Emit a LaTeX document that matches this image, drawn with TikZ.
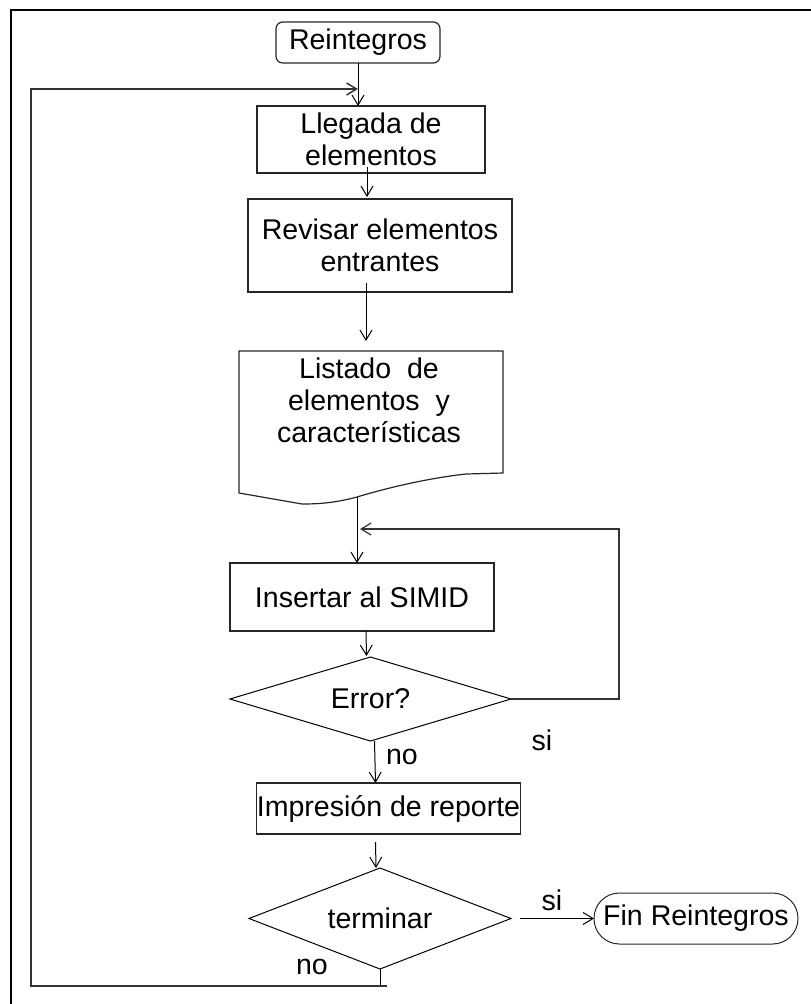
\documentclass[tikz,border=0pt]{standalone}
\usepackage{fontspec}
\setmainfont{Liberation Sans}
\usetikzlibrary{arrows.meta,shapes.geometric,calc}
\newcommand\flowfont{\fontsize{21.4pt}{24pt}\selectfont}
\begin{document}
\begin{tikzpicture}[x=0.75pt,y=-0.75pt,
  box/.style={draw=black!85, line width=0.9pt, inner sep=0pt, outer sep=0pt, align=center, font=\flowfont},
  decision/.style={draw=black, line width=0.75pt, shape=diamond, inner sep=0pt, outer sep=0pt, font=\flowfont},
  lbl/.style={inner sep=0pt, font=\flowfont},
  arr/.style={draw=black, line width=0.75pt, -{Straight Barb[length=7.5pt,width=9pt]}},
  plain/.style={draw=black, line width=0.75pt},
  loopline/.style={draw=black!80, line width=1.1pt}
]
\useasboundingbox (0,0) rectangle (811,1004);
% outer frame
\draw[line width=1.6pt] (11,1004) -- (11,10) -- (811,10);

% nodes
\node[box, rounded corners=5pt, minimum width=123pt, minimum height=30.75pt] (rein) at (358,42.5) {Reintegros};
\node[box, minimum width=171pt, minimum height=50.25pt] (lleg) at (371,139.5) {Llegada de\\elementos};
\node[box, minimum width=198pt, minimum height=69.75pt] (rev) at (380,245.5) {Revisar elementos\\entrantes};
% document shape
\draw[box] (239,351) -- (503,351) -- (503,473) -- (466,474)
  .. controls (430,478) and (390,487) .. (357,497)
  .. controls (335,503) and (318,504) .. (302,504) -- (239,493) -- cycle;
\node[lbl, align=center] (lst) at (369,400) {Listado\ \ de\\elementos\ \ y\\características};
\coordinate (lsttop) at (366,341);
\coordinate (lstbot) at (357,497);
\node[box, minimum width=198pt, minimum height=51pt] (ins) at (362,597) {Insertar al SIMID};
\node[decision, aspect=3.35, minimum width=210.75pt, minimum height=63pt] (err) at (370.5,699) {Error?};
\node[box, minimum width=197.25pt, minimum height=38.25pt] (imp) at (388.5,808.5) {Impresión de reporte};
\node[decision, aspect=2.6, minimum width=196.5pt, minimum height=75.75pt] (ter) at (380,918.5) {terminar};
\node[box, line width=0.75pt, rounded corners=19pt, minimum width=153pt, minimum height=38.25pt] (fin) at (696,918.5) {Fin Reintegros};

% labels
\node[lbl] (no1) at (402,757) {no};
\node[lbl] (si1) at (542,740) {si};
\node[lbl] (si2) at (552,900) {si};
\node[lbl] (no2) at (312,967) {no};

% connectors
\coordinate (lb) at (31,986);
\coordinate (lt) at (31,89);
\coordinate (erc) at (619,529);
\draw[arr] (rein.south) -- (rein.south |- lleg.north);
\draw[plain] (ter.south) -- (ter.south |- lb);
\draw[loopline, -{Straight Barb[length=7.5pt,width=9pt]}] ($(ter.south |- lb)+(7,0)$) -- (lb) -- (lt) -- (rein.south |- lt);
\draw[arr] ($(lleg.south)+(-4,-6)$) -- ($(rev.north)+(-13,-2)$);
\draw[arr] ($(rev.south)+(-14,-9)$) -- (lsttop);
\draw[arr] (lstbot) -- (lstbot |- ins.north);
\draw[arr] ($(ins.south)+(4,0)$) -- ($(err.north)+(-4,-1)$);
\draw[loopline, line width=0.9pt, -{Straight Barb[length=7.5pt,width=9pt]}] (err.east) -- (err.east -| erc) -- (erc) -- ($(lstbot |- erc)+(3,0)$);
\draw[arr] ($(err.south)+(4,0)$) -- ($(imp.north)+(-13,0)$);
\draw[arr] ($(imp.south)+(-13,8)$) -- ($(ter.north)+(-4,0)$);
\draw[arr] ($(ter.east)+(9,0)$) -- (fin.west);
\end{tikzpicture}
\end{document}
